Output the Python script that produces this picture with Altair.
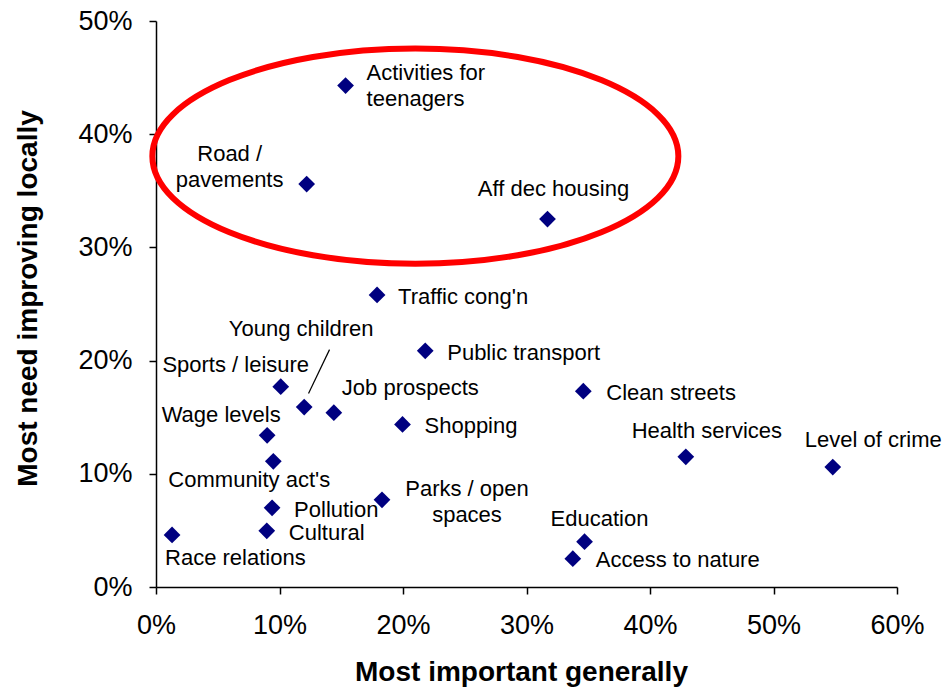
import altair as alt
import pandas as pd

# Issue names (line breaks where a label wraps)
names = [
    "Activities for\nteenagers", "Road /\npavements", "Aff dec housing", "Traffic cong'n",
    "Public transport", "Clean streets", "Sports / leisure", "Young children",
    "Job prospects", "Shopping", "Wage levels", "Health services", "Level of crime",
    "Community act's", "Pollution", "Parks / open\nspaces", "Cultural", "Race relations",
    "Education", "Access to nature",
]
# Share saying the issue is most important generally
important = [0.1535, 0.122, 0.317, 0.179, 0.218, 0.346, 0.101, 0.120, 0.144, 0.1996,
             0.090, 0.429, 0.548, 0.095, 0.094, 0.183, 0.0897, 0.013, 0.347, 0.3375]
# Share saying the issue most needs improving locally
improving = [0.443, 0.356, 0.325, 0.258, 0.2086, 0.173, 0.177, 0.159, 0.154, 0.1436,
             0.134, 0.115, 0.106, 0.111, 0.070, 0.077, 0.0496, 0.046, 0.040, 0.025]

# Label placement relative to each marker: (align, dx, dy) in pixels;
# for wrapped labels dy places the first line
label_layout = {
    "Activities for\nteenagers": ("left", 21, -13),
    "Road /\npavements": ("center", -77, -30),
    "Aff dec housing": ("center", 6, -30),
    "Traffic cong'n": ("left", 21, 2),
    "Public transport": ("left", 22, 2),
    "Clean streets": ("left", 23, 2),
    "Sports / leisure": ("center", -45, -22),
    "Young children": ("center", -3, -78),
    "Job prospects": ("left", 8, -25),
    "Shopping": ("left", 22, 2),
    "Wage levels": ("center", -46, -20),
    "Health services": ("center", 21, -26),
    "Level of crime": ("left", -28, -27),
    "Community act's": ("center", -24, 19),
    "Pollution": ("left", 22, 2),
    "Parks / open\nspaces": ("center", 85, -11),
    "Cultural": ("left", 22, 2),
    "Race relations": ("left", -7, 23),
    "Education": ("center", 15, -23),
    "Access to nature": ("left", 23, 1),
}

# Highlight ellipse around the top group (centre in data units)
ellipse_center = {"important": [0.210], "improving": [0.3806]}
# Leader line from "Young children" label to its marker
leader = {"important": [0.1235], "improving": [0.1709],
          "important2": [0.1405], "improving2": [0.2097]}

df = pd.DataFrame({"name": names, "important": important, "improving": improving})

FONT = "Liberation Sans"
ticks = [0, 0.1, 0.2, 0.3, 0.4, 0.5, 0.6]
yticks = [0, 0.1, 0.2, 0.3, 0.4, 0.5]

xscale = alt.Scale(domain=[0, 0.6], nice=False, zero=True)
yscale = alt.Scale(domain=[0, 0.5], nice=False, zero=True)

x_axis = alt.Axis(
    format=".0%", values=ticks, grid=False, title="Most important generally",
    labelFontSize=27, labelPadding=18, tickSize=7, labelFlush=False,
    titleFontSize=28, titleFontWeight="bold", titleX=365, titleY=85,
    titleAlign="center", titleBaseline="middle",
)
y_axis = alt.Axis(
    format=".0%", values=yticks, grid=False, title="Most need improving locally",
    labelFontSize=27, labelPadding=17, tickSize=7, labelFlush=False,
    titleFontSize=28, titleFontWeight="bold", titleAngle=270, titleX=-128, titleY=277,
    titleAlign="center", titleBaseline="middle",
)

# Ellipse drawn as a custom symbol made of four cubic curves
ry = 0.409
k = 0.5523
ellipse_path = (
    f"M 1 0 C 1 {k*ry:.4f} {k:.4f} {ry} 0 {ry} "
    f"C {-k:.4f} {ry} -1 {k*ry:.4f} -1 0 "
    f"C -1 {-k*ry:.4f} {-k:.4f} {-ry} 0 {-ry} "
    f"C {k:.4f} {-ry} 1 {-k*ry:.4f} 1 0 Z"
)
ellipse = alt.Chart(pd.DataFrame(ellipse_center)).mark_point(
    shape=ellipse_path, size=526 ** 2, filled=False, stroke="#ff0000",
    strokeWidth=6, opacity=1,
).encode(
    x=alt.X("important:Q", scale=xscale),
    y=alt.Y("improving:Q", scale=yscale),
)

points = alt.Chart(df).mark_point(
    shape="diamond", size=280, filled=True, color="#000080", opacity=1,
).encode(
    x=alt.X("important:Q", scale=xscale, axis=x_axis),
    y=alt.Y("improving:Q", scale=yscale, axis=y_axis),
)

leader_line = alt.Chart(pd.DataFrame(leader)).mark_rule(color="black", strokeWidth=1.2).encode(
    x=alt.X("important:Q", scale=xscale),
    y=alt.Y("improving:Q", scale=yscale),
    x2="important2:Q",
    y2="improving2:Q",
)

labels = []
for name in names:
    align, dx, dy = label_layout[name]
    labels.append(
        alt.Chart(df).transform_filter(alt.datum.name == name).mark_text(
            align=align, baseline="middle", dx=dx, dy=dy, fontSize=22,
            font=FONT, color="black", lineBreak="\n", lineHeight=26,
        ).encode(
            x=alt.X("important:Q", scale=xscale),
            y=alt.Y("improving:Q", scale=yscale),
            text="name:N",
        )
    )

chart = alt.layer(ellipse, leader_line, points, *labels).properties(
    width=741, height=566,
    autosize=alt.AutoSizeParams(type="none"),
    padding={"left": 156, "top": 21, "right": 49, "bottom": 103},
    background="white",
).configure_view(stroke=None).configure_axis(
    labelFont=FONT, titleFont=FONT, labelColor="black", titleColor="black",
    domainColor="black", tickColor="black", domainWidth=1.5, tickWidth=1.5,
)

chart.save("out.html", embed_options={"renderer": "svg", "actions": False})
